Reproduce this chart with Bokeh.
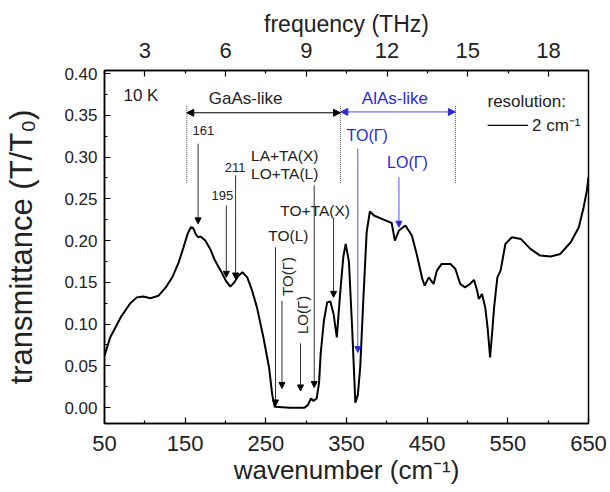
import math
from bokeh.plotting import figure
from bokeh.models import (Range1d, LinearAxis, FixedTicker, PrintfTickFormatter,
                          Arrow, NormalHead)
from bokeh.core.properties import value
from bokeh.embed import file_html
from bokeh.resources import INLINE

# ---- data ----
wavenumber = [50, 57, 70, 82, 90, 98, 107, 117, 126, 134, 142, 148, 153, 157, 160, 163, 166,
              169, 175, 181, 187, 194, 201, 206, 211, 216, 221, 227, 233, 239, 247, 254, 258,
              261, 280, 298, 302, 306, 309, 313, 316, 318, 322, 326, 330, 334, 338, 342, 346,
              349, 353, 357, 361, 364, 367, 371, 375, 379, 384, 396, 406, 410, 415, 423, 431,
              437, 444, 447, 452, 458, 462, 468, 479, 485, 491, 497, 503, 508, 512, 514, 518,
              522, 525, 528, 531, 533, 537, 541, 547, 555, 566, 578, 590, 603, 615, 628, 638,
              644, 648, 650]
transmittance = [0.062, 0.084, 0.108, 0.125, 0.132, 0.133, 0.131, 0.134, 0.144, 0.156, 0.174,
                 0.192, 0.208, 0.216, 0.215, 0.208, 0.204, 0.205, 0.200, 0.190, 0.176, 0.164,
                 0.151, 0.145, 0.150, 0.158, 0.162, 0.156, 0.140, 0.120, 0.084, 0.048, 0.015,
                 0.001, 0.000, 0.000, 0.003, 0.011, 0.008, 0.011, 0.030, 0.065, 0.104, 0.126,
                 0.127, 0.112, 0.084, 0.135, 0.180, 0.196, 0.175, 0.095, 0.006, 0.015, 0.048,
                 0.132, 0.210, 0.235, 0.230, 0.225, 0.221, 0.200, 0.212, 0.218, 0.206, 0.184,
                 0.154, 0.146, 0.156, 0.148, 0.164, 0.172, 0.172, 0.166, 0.148, 0.144, 0.148,
                 0.153, 0.140, 0.130, 0.136, 0.120, 0.095, 0.060, 0.095, 0.120, 0.156, 0.164,
                 0.196, 0.204, 0.202, 0.190, 0.182, 0.181, 0.184, 0.198, 0.216, 0.240, 0.260,
                 0.276]

x_ticks = [50, 150, 250, 350, 450, 550, 650]
x_minor = [100, 200, 300, 400, 500, 600]
y_ticks = [0.0, 0.05, 0.10, 0.15, 0.20, 0.25, 0.30, 0.35, 0.40]
y_minor = [0.025, 0.075, 0.125, 0.175, 0.225, 0.275, 0.325, 0.375]
thz_ticks = [3, 6, 9, 12, 15, 18]
thz_minor = [1.5, 4.5, 7.5, 10.5, 13.5, 16.5, 19.5]
CM_PER_THZ = 33.356

FONT = value("Liberation Sans")
BLUE_TXT = "#2a2ad6"
BLUE_LN = "#5050f0"

p = figure(width=610, height=492, output_backend="svg", toolbar_location=None,
           x_range=Range1d(50, 650), y_range=Range1d(-0.019, 0.4036),
           min_border_left=104, min_border_right=22, min_border_top=70, min_border_bottom=69)
p.background_fill_color = "white"
p.border_fill_color = "white"
p.xgrid.visible = False
p.ygrid.visible = False
p.outline_line_color = "black"
p.outline_line_width = 1.5
p.outline_line_alpha = 1.0

xa = p.below[0]
ya = p.left[0]

p.extra_x_ranges = {"thz": Range1d(50 / CM_PER_THZ, 650 / CM_PER_THZ)}
top = LinearAxis(x_range_name="thz", axis_label="frequency (THz)")
p.add_layout(top, "above")

for ax in [xa, ya, top]:
    ax.major_tick_in = 6
    ax.major_tick_out = 0
    ax.minor_tick_in = 3
    ax.minor_tick_out = 0
    ax.axis_line_width = 1.5
    ax.major_tick_line_width = 1.2
    ax.minor_tick_line_width = 1.2
    ax.axis_label_text_font = "Liberation Sans"
    ax.major_label_text_font = "Liberation Sans"
    ax.axis_label_text_font_style = "normal"
    ax.axis_label_text_color = "#222222"
    ax.major_label_text_color = "#222222"

xa.ticker = FixedTicker(ticks=x_ticks, minor_ticks=x_minor)
xa.axis_label = "wavenumber (cm\u207b\u00b9)"
xa.axis_label_text_font_size = "26px"
xa.major_label_text_font_size = "22px"
xa.major_label_standoff = 12
xa.axis_label_standoff = 1

ya.ticker = FixedTicker(ticks=y_ticks, minor_ticks=y_minor)
ya.formatter = PrintfTickFormatter(format="%.2f")
ya.axis_label = "transmittance (T/T\u2080)"
ya.axis_label_text_font_size = "31px"
ya.major_label_text_font_size = "17px"
ya.major_label_standoff = 7
ya.axis_label_standoff = 22

top.ticker = FixedTicker(ticks=thz_ticks, minor_ticks=thz_minor)
top.axis_label_text_font_size = "23px"
top.major_label_text_font_size = "22px"
top.major_label_standoff = 13
top.axis_label_standoff = 3

# spectrum
p.line(wavenumber, transmittance, line_color="black", line_width=2)

# region markers
p.segment(x0=[152, 342.5, 485], y0=[0.269] * 3, x1=[152, 342.5, 485], y1=[0.362] * 3,
          line_color="#555555", line_width=1, line_dash="1 1")
p.add_layout(Arrow(start=NormalHead(size=7, fill_color="black", line_color="black"),
                   end=NormalHead(size=7, fill_color="black", line_color="black"),
                   x_start=152, y_start=0.353, x_end=342.5, y_end=0.353,
                   line_color="black", line_width=1))
p.add_layout(Arrow(start=NormalHead(size=7, fill_color=BLUE_TXT, line_color=BLUE_TXT),
                   end=NormalHead(size=7, fill_color=BLUE_TXT, line_color=BLUE_TXT),
                   x_start=343, y_start=0.354, x_end=485, y_end=0.354,
                   line_color=BLUE_LN, line_width=1))

# black phonon arrows (x, y_start, y_end)
black_arrows = [(166, 0.316, 0.220), (201, 0.242, 0.156), (212.5, 0.278, 0.154),
                (310, 0.266, 0.024), (334, 0.226, 0.132), (262, 0.192, 0.002),
                (270, 0.128, 0.023), (293, 0.077, 0.020)]
for xx, ys, ye in black_arrows:
    p.add_layout(Arrow(end=NormalHead(size=6, fill_color="black", line_color="black"),
                       x_start=xx, y_start=ys, x_end=xx, y_end=ye,
                       line_color="#333333", line_width=1))
blue_arrows = [(364, 0.310, 0.066), (415, 0.276, 0.216)]
for xx, ys, ye in blue_arrows:
    p.add_layout(Arrow(end=NormalHead(size=6, fill_color=BLUE_TXT, line_color=BLUE_TXT),
                       x_start=xx, y_start=ys, x_end=xx, y_end=ye,
                       line_color=BLUE_LN, line_width=1))

# resolution bar
p.segment(x0=[525], y0=[0.338], x1=[575], y1=[0.338], line_color="black", line_width=1.2)

# texts
p.text(x=[73.5], y=[0.374], text=["10 K"], text_font=FONT, text_font_size="17px",
       text_align="left", text_baseline="middle", text_color="#222222")
p.text(x=[225], y=[0.370], text=["GaAs-like"], text_font=FONT, text_font_size="17px",
       text_align="center", text_baseline="middle", text_color="#222222")
p.text(x=[410], y=[0.370], text=["AlAs-like"], text_font=FONT, text_font_size="17px",
       text_align="center", text_baseline="middle", text_color=BLUE_TXT)
p.text(x=[524.8], y=[0.366], text=["resolution:"], text_font=FONT, text_font_size="17px",
       text_align="left", text_baseline="middle", text_color="#222222")
p.text(x=[580], y=[0.338], text=["2 cm\u207b\u00b9"], text_font=FONT, text_font_size="17px",
       text_align="left", text_baseline="middle", text_color="#222222")
p.text(x=[159, 196, 212], y=[0.332, 0.254, 0.288], text=["161", "195", "211"],
       text_font=FONT, text_font_size="13px", text_align=["left", "center", "center"],
       text_baseline="middle", text_color="#222222")
p.text(x=[231.7, 231.7, 268, 253], y=[0.302, 0.280, 0.236, 0.206],
       text=["LA+TA(X)", "LO+TA(L)", "TO+TA(X)", "TO(L)"],
       text_font=FONT, text_font_size="15.5px", text_align="left",
       text_baseline="middle", text_color="#222222")
p.text(x=[276.5, 295.5], y=[0.157, 0.111], text=["TO(\u0393)", "LO(\u0393)"],
       angle=math.pi / 2, text_font=FONT, text_font_size="15px", text_align="center",
       text_baseline="middle", text_color="#222222")
p.text(x=[350, 400.3], y=[0.326, 0.294], text=["TO(\u0393)", "LO(\u0393)"],
       text_font=FONT, text_font_size="16px", text_align="left",
       text_baseline="middle", text_color=BLUE_TXT)

open("out.html", "w").write(file_html(p, INLINE))
